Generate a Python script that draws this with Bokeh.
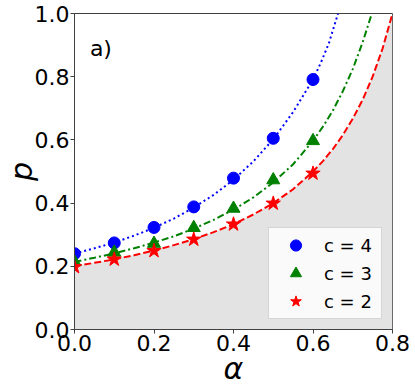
from bokeh.plotting import figure
from bokeh.models import Label, Legend, LegendItem, FixedTicker, Range1d
from bokeh.embed import file_html
from bokeh.resources import INLINE

# ---- data ----
alpha_pts = [0.0, 0.1, 0.2, 0.3, 0.4, 0.5, 0.6]
p_c4 = [0.240, 0.274, 0.323, 0.388, 0.479, 0.605, 0.791]
p_c3 = [0.214, 0.244, 0.272, 0.322, 0.383, 0.473, 0.597]
p_c2 = [0.198, 0.222, 0.249, 0.285, 0.333, 0.399, 0.494]

alpha_c4_curve = [0.0, 0.05, 0.1, 0.15, 0.2, 0.25, 0.3, 0.35, 0.4, 0.45, 0.5, 0.55, 0.6,
                  0.62, 0.64, 0.663]
p_c4_curve = [0.240, 0.257, 0.275, 0.297, 0.322, 0.351, 0.386, 0.426, 0.474, 0.532, 0.602, 0.688, 0.791,
              0.845, 0.906, 1.0]

alpha_c3_curve = [0.0, 0.05, 0.1, 0.15, 0.2, 0.25, 0.3, 0.35, 0.4, 0.45, 0.5, 0.55, 0.6,
                  0.625, 0.65, 0.675, 0.7, 0.725, 0.748]
p_c3_curve = [0.214, 0.227, 0.241, 0.257, 0.275, 0.295, 0.319, 0.347, 0.379, 0.418, 0.465, 0.523, 0.597,
              0.642, 0.693, 0.754, 0.824, 0.909, 1.0]

alpha_c2_curve = [0.0, 0.05, 0.1, 0.15, 0.2, 0.25, 0.3, 0.35, 0.4, 0.45, 0.5, 0.55, 0.6,
                  0.625, 0.65, 0.675, 0.7, 0.725, 0.75, 0.775, 0.8]
p_c2_curve = [0.200, 0.211, 0.222, 0.235, 0.250, 0.267, 0.286, 0.308, 0.333, 0.364, 0.400, 0.444, 0.500,
              0.533, 0.571, 0.615, 0.667, 0.727, 0.800, 0.889, 1.000]

x_ticks = [0.0, 0.2, 0.4, 0.6, 0.8]
x_tick_labels = ["0.0", "0.2", "0.4", "0.6", "0.8"]
y_ticks = [0.0, 0.2, 0.4, 0.6, 0.8, 1.0]
y_tick_labels = ["0.0", "0.2", "0.4", "0.6", "0.8", "1.0"]
legend_labels = ["c = 4", "c = 3", "c = 2"]
x_title = "α"
y_title = "p"

FONT = "DejaVu Sans"

p = figure(width=410, height=390, output_backend="svg", toolbar_location=None,
           x_range=Range1d(0, 0.8), y_range=Range1d(0, 1.0),
           min_border_left=74, min_border_right=18, min_border_top=13, min_border_bottom=61)

p.grid.visible = False
p.outline_line_color = "#404040"
p.outline_line_width = 1
p.background_fill_color = "white"
p.border_fill_color = "white"

for ax, ticks, labels in ((p.xaxis[0], x_ticks, x_tick_labels), (p.yaxis[0], y_ticks, y_tick_labels)):
    ax.ticker = FixedTicker(ticks=ticks)
    ax.major_label_overrides = {t: l for t, l in zip(ticks, labels)}
    ax.minor_tick_line_color = None
    ax.major_tick_in = 0
    ax.major_tick_out = 4
    ax.major_tick_line_color = "#404040"
    ax.axis_line_color = "#404040"
    ax.major_label_text_font = FONT
    ax.major_label_text_font_size = "22px"
    ax.major_label_text_color = "black"
    ax.major_label_standoff = 1
    ax.axis_label_text_font = FONT
    ax.axis_label_text_font_size = "30px"
    ax.axis_label_text_font_style = "italic"
    ax.axis_label_text_color = "black"

p.xaxis[0].axis_label = x_title
p.xaxis[0].axis_label_standoff = -3
p.yaxis[0].axis_label = y_title
p.yaxis[0].axis_label_standoff = -7

# shaded region below the c=2 curve
p.varea(x=alpha_c2_curve, y1=[0.0] * len(alpha_c2_curve), y2=p_c2_curve, fill_color="#e3e3e3")

# theory curves
p.line(alpha_c4_curve, p_c4_curve, line_color="#0000ff", line_width=2, line_dash="2 3")
p.line(alpha_c3_curve, p_c3_curve, line_color="#008000", line_width=2, line_dash="7 3 2 3")
p.line(alpha_c2_curve, p_c2_curve, line_color="#ff0000", line_width=2, line_dash="7 3")

# markers
r4 = p.scatter(alpha_pts, p_c4, marker="circle", size=12, fill_color="#0000ff", line_color="#0000ff")
r3 = p.scatter(alpha_pts, p_c3, marker="triangle", size=13, fill_color="#008000", line_color="#008000")
r2 = p.scatter(alpha_pts, p_c2, marker="star", size=15, fill_color="#ff0000", line_color="#ff0000")

legend = Legend(items=[LegendItem(label=legend_labels[0], renderers=[r4]),
                       LegendItem(label=legend_labels[1], renderers=[r3]),
                       LegendItem(label=legend_labels[2], renderers=[r2])],
                location=(194, 10), padding=3, spacing=0, glyph_width=47, glyph_height=28,
                label_height=28, label_width=54, label_standoff=5, label_text_font=FONT,
                label_text_font_size="18px", label_text_color="black",
                background_fill_color="white", background_fill_alpha=0.8,
                border_line_color="#cccccc", border_line_alpha=0.8, border_line_width=1)
p.add_layout(legend, "center")

# panel tag
p.add_layout(Label(x=0.0387, y=0.889, text="a)", text_font=FONT, text_font_size="22px",
                   text_color="black", text_baseline="alphabetic", text_align="left"))

open("out.html", "w").write(file_html(p, INLINE))
